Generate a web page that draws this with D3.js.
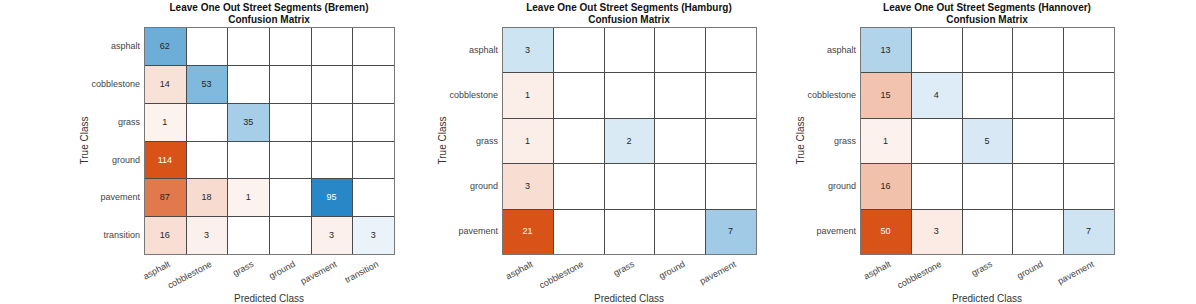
<!DOCTYPE html>
<html><head><meta charset="utf-8">
<script src="https://cdn.jsdelivr.net/npm/d3@7"></script>
<style>body{margin:0;background:#fff}svg{display:block;font-family:"Liberation Sans",Arial,sans-serif}</style>
</head><body><svg id="c" width="1196" height="304"></svg>
<script>
const catsBremen = ["asphalt","cobblestone","grass","ground","pavement","transition"];
const valuesBremen = [
  [62,0,0,0,0,0],
  [14,53,0,0,0,0],
  [1,0,35,0,0,0],
  [114,0,0,0,0,0],
  [87,18,1,0,95,0],
  [16,3,0,0,3,3]
];
const catsHamburg = ["asphalt","cobblestone","grass","ground","pavement"];
const valuesHamburg = [
  [3,0,0,0,0],
  [1,0,0,0,0],
  [1,0,2,0,0],
  [3,0,0,0,0],
  [21,0,0,0,7]
];
const catsHannover = ["asphalt","cobblestone","grass","ground","pavement"];
const valuesHannover = [
  [13,0,0,0,0],
  [15,4,0,0,0],
  [1,0,5,0,0],
  [16,0,0,0,0],
  [50,3,0,0,7]
];
const titles = ["Leave One Out Street Segments (Bremen)","Leave One Out Street Segments (Hamburg)","Leave One Out Street Segments (Hannover)"];

const panels = [
  {cats:catsBremen, vals:valuesBremen, title:titles[0], x0:144, x1:394},
  {cats:catsHamburg, vals:valuesHamburg, title:titles[1], x0:502, x1:756},
  {cats:catsHannover, vals:valuesHannover, title:titles[2], x0:860, x1:1114}
];
const gTop = 27, gBottom = 254;
const blue = [0,114,189], orange = [217,83,25];
function cellColor(v, max, diag){
  if(!v) return "#ffffff";
  const t = 0.06 + 0.94*v/max;
  const b = diag ? blue : orange;
  return d3.rgb(255+(b[0]-255)*t, 255+(b[1]-255)*t, 255+(b[2]-255)*t);
}
function textColor(c){
  if(typeof c === "string") return "#262626";
  const L = 0.299*c.r + 0.587*c.g + 0.114*c.b;
  return L < 128 ? "#ffffff" : "#262626";
}
const svg = d3.select("#c");
panels.forEach(p => {
  const g = svg.append("g");
  const x = d3.scaleBand().domain(p.cats).range([p.x0, p.x1]);
  const y = d3.scaleBand().domain(p.cats).range([gTop, gBottom]);
  const max = d3.max(p.vals.flat());
  const cells = [];
  p.vals.forEach((row,i)=>row.forEach((v,j)=>cells.push({r:p.cats[i], c:p.cats[j], v, diag:i===j})));
  const cg = g.selectAll("g.cell").data(cells).join("g");
  cg.append("rect")
    .attr("x", d=>Math.round(x(d.c))+0.5).attr("y", d=>Math.round(y(d.r))+0.5)
    .attr("width", d=>Math.round(x(d.c)+x.bandwidth())-Math.round(x(d.c)))
    .attr("height", d=>Math.round(y(d.r)+y.bandwidth())-Math.round(y(d.r)))
    .attr("fill", d=>cellColor(d.v,max,d.diag))
    .attr("stroke", "#4a4a4a").attr("stroke-width", 1);
  cg.filter(d=>d.v>0).append("text")
    .attr("x", d=>x(d.c)+x.bandwidth()/2).attr("y", d=>y(d.r)+y.bandwidth()/2)
    .attr("dy","0.35em").attr("text-anchor","middle").attr("font-size", 9)
    .attr("fill", d=>textColor(cellColor(d.v,max,d.diag)))
    .text(d=>d.v);
  g.append("rect").attr("x", p.x0+0.5).attr("y", gTop+0.5)
    .attr("width", p.x1-p.x0).attr("height", gBottom-gTop)
    .attr("fill","none").attr("stroke","#777").attr("stroke-width",1);
  g.selectAll("text.yt").data(p.cats).join("text")
    .attr("x", p.x0-4).attr("y", d=>y(d)+y.bandwidth()/2).attr("dy","0.35em")
    .attr("text-anchor","end").attr("font-size",9).attr("fill","#444").text(d=>d);
  g.selectAll("text.xt").data(p.cats).join("text")
    .attr("text-anchor","end").attr("font-size",9).attr("fill","#444")
    .attr("transform", d=>`translate(${x(d)+x.bandwidth()/2+6},${gBottom+12}) rotate(-28)`)
    .text(d=>d);
  const cx = (p.x0+p.x1)/2;
  g.append("text").attr("x",cx).attr("y",302).attr("text-anchor","middle")
    .attr("font-size",10).attr("fill","#333").text("Predicted Class");
  g.append("text").attr("transform",`translate(${p.x0-60},${(gTop+gBottom)/2}) rotate(-90)`)
    .attr("text-anchor","middle").attr("dy","0.35em").attr("font-size",10).attr("fill","#333").text("True Class");
  g.append("text").attr("x",cx).attr("y",11).attr("text-anchor","middle")
    .attr("font-size",10).attr("font-weight","bold").attr("fill","#111").text(p.title);
  g.append("text").attr("x",cx).attr("y",22.5).attr("text-anchor","middle")
    .attr("font-size",10).attr("font-weight","bold").attr("fill","#111").text("Confusion Matrix");
});
</script></body></html>
